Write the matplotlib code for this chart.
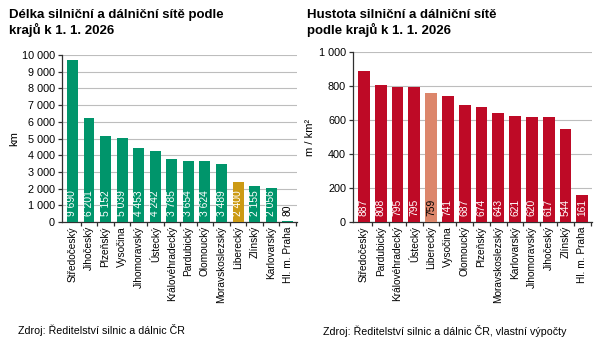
import matplotlib
matplotlib.use("Agg")
import matplotlib.pyplot as plt
from matplotlib.ticker import FuncFormatter, FixedLocator

plt.rcParams['font.family'] = ['Liberation Sans', 'DejaVu Sans']

# ---------------- data ----------------
kraje_delka = ['Středočeský', 'Jihočeský', 'Plzeňský', 'Vysočina', 'Jihomoravský',
               'Ústecký', 'Královéhradecký', 'Pardubický', 'Olomoucký',
               'Moravskoslezský', 'Liberecký', 'Zlínský', 'Karlovarský', 'Hl. m. Praha']
delka_km = [9690, 6201, 5152, 5039, 4453, 4242, 3785, 3654, 3624, 3489, 2400, 2155, 2056, 80]

kraje_hustota = ['Středočeský', 'Pardubický', 'Královéhradecký', 'Ústecký', 'Liberecký',
                 'Vysočina', 'Olomoucký', 'Plzeňský', 'Moravskoslezský', 'Karlovarský',
                 'Jihomoravský', 'Jihočeský', 'Zlínský', 'Hl. m. Praha']
hustota = [887, 808, 795, 795, 759, 741, 687, 674, 643, 621, 620, 617, 544, 161]

highlight = 'Liberecký'

GREEN = '#00956B'
GOLD = '#CC9A14'
RED = '#BE0A26'
SALMON = '#DC866B'


def fmt_space(v, pos=None):
    return f"{int(round(v)):,}".replace(',', ' ')


def draw_panel(ax, cats, vals, base, hl, ymax, ystep, width, xlim, dark_hl_text):
    x = range(len(cats))
    colors = [hl if c == highlight else base for c in cats]
    ax.bar(x, vals, width=width, color=colors, zorder=3)
    ax.set_xlim(*xlim)
    ax.set_ylim(0, ymax)
    ax.set_yticks(range(0, ymax + 1, ystep))
    ax.yaxis.set_major_formatter(FuncFormatter(fmt_space))
    ax.grid(axis='y', color='#BDBDBD', linewidth=0.8, zorder=0)
    for s in ['top', 'right']:
        ax.spines[s].set_visible(False)
    for s in ['left', 'bottom']:
        ax.spines[s].set_color('#303030')
        ax.spines[s].set_linewidth(0.9)
    # category labels in the middle, tick marks between categories
    ax.set_xticks(list(x))
    ax.set_xticklabels(cats, rotation=90, fontsize=7.3)
    ax.tick_params(axis='x', length=0, pad=3)
    ax.xaxis.set_minor_locator(FixedLocator([i + 0.5 for i in range(len(cats))]))
    ax.tick_params(axis='x', which='minor', length=3, width=0.9, color='#303030')
    ax.tick_params(axis='y', length=3, width=0.9, color='#303030', labelsize=7.8, pad=2)
    # value labels near the base of the bars
    for i, (c, v) in enumerate(zip(cats, vals)):
        dark = (c == highlight and dark_hl_text) or v < ymax * 0.05
        ax.annotate(fmt_space(v), (i, 0), xytext=(0, 4.5), textcoords='offset points',
                    rotation=90, ha='center', va='bottom', fontsize=7.4,
                    color='black' if dark else 'white', zorder=4)


fig = plt.figure(figsize=(6.07, 3.42), dpi=100)

ax1 = fig.add_axes([0.1021, 0.351, 0.387, 0.488])
draw_panel(ax1, kraje_delka, delka_km, GREEN, GOLD, 10000, 1000, 0.66, (-0.63, 13.55), False)
ax1.set_ylabel('km', fontsize=8, labelpad=2)

ax2 = fig.add_axes([0.5815, 0.351, 0.3935, 0.497])
draw_panel(ax2, kraje_hustota, hustota, RED, SALMON, 1000, 200, 0.70, (-0.65, 13.57), True)
ax2.set_ylabel('m / km²', fontsize=8, labelpad=3)

fig.text(9 / 607, 1 - 9 / 342, 'Délka silniční a dálniční sítě podle\nkrajů k 1. 1. 2026',
         fontsize=9.5, fontweight='bold', va='top', ha='left', linespacing=1.15)
fig.text(307 / 607, 1 - 9 / 342, 'Hustota silniční a dálniční sítě\npodle krajů k 1. 1. 2026',
         fontsize=9.5, fontweight='bold', va='top', ha='left', linespacing=1.15)

fig.text(18 / 607, 1 - 334 / 342, 'Zdroj: Ředitelství silnic a dálnic ČR',
         fontsize=7.7, ha='left', va='baseline')
fig.text(323 / 607, 1 - 335 / 342, 'Zdroj: Ředitelství silnic a dálnic ČR, vlastní výpočty',
         fontsize=7.7, ha='left', va='baseline')

fig.savefig('out.png', dpi=100, facecolor='white')
